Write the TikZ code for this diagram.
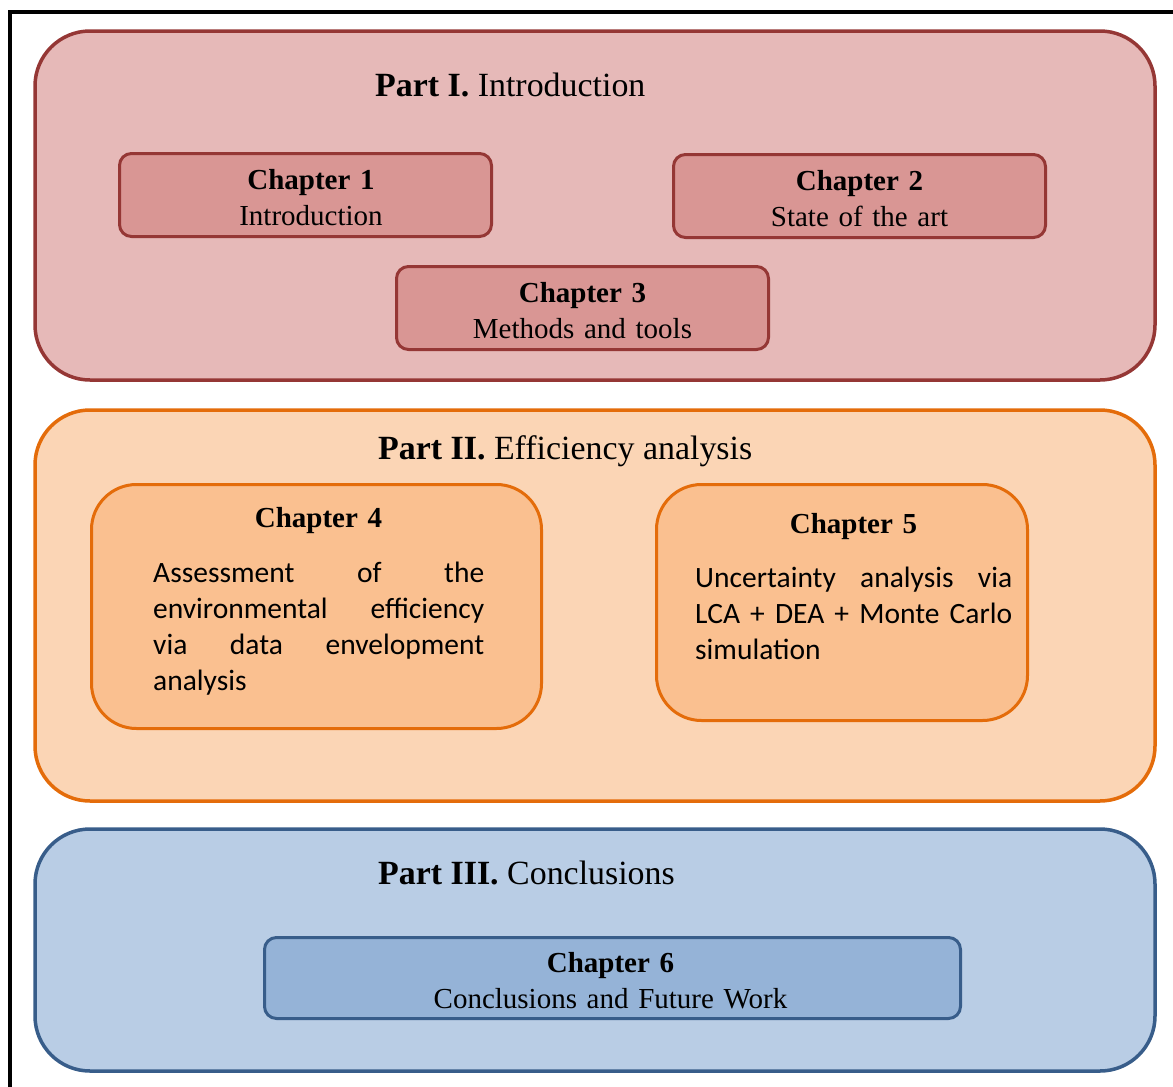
\documentclass[tikz,border=0pt]{standalone}
\usepackage{fontspec}
\newfontfamily\titlefont{Liberation Serif}
\newfontfamily\calfont{Carlito}
\definecolor{redline}{HTML}{953735}
\definecolor{redfill}{HTML}{E6B9B8}
\definecolor{redchap}{HTML}{D99694}
\definecolor{orline}{HTML}{E46C0A}
\definecolor{orfill}{HTML}{FBD5B5}
\definecolor{orchap}{HTML}{FAC090}
\definecolor{blline}{HTML}{385D8A}
\definecolor{blfill}{HTML}{B9CDE5}
\definecolor{blchap}{HTML}{95B3D7}
\tikzset{
  partbox/.style={draw, line width=3.5pt, rounded corners=55pt, inner sep=0pt},
  chapbox/.style={draw, line width=3pt, rounded corners=12pt, inner sep=0pt},
  bigchap/.style={draw, line width=3pt, rounded corners=45pt, inner sep=0pt},
  parttitle/.style={anchor=base west, inner sep=0pt, font=\titlefont\fontsize{33.9}{40}\selectfont},
  chaptext/.style={anchor=base, inner sep=0pt, align=center, font=\titlefont\fontsize{29}{36}\selectfont},
  bodytext/.style={anchor=base west, inner sep=0pt, align=justify, font=\calfont\fontsize{29.5}{36}\selectfont}
}
\begin{document}
\begin{tikzpicture}[x=1pt,y=-1pt]
\useasboundingbox (0,0) rectangle (1173,1087);
% frame edges
\coordinate (ftl) at (10,12);
\coordinate (fbl) at (10,1090);
\coordinate (ftr) at (1176,12);
\draw[line width=4pt] (fbl) -- (ftl) -- (ftr);

% Part I
\node[partbox, draw=redline, fill=redfill, minimum width=1120pt, minimum height=349pt] (p1) at (595,205.5) {};
\node[parttitle] (p1t) at (375,96) {\textbf{Part I.} Introduction};
\node[chapbox, draw=redline, fill=redchap, minimum width=372pt, minimum height=83pt] (c1) at (305.5,195) {};
\node[chaptext, text width=372pt] (c1t) at (311,189) {\textbf{Chapter 1}\\Introduction};
\node[chapbox, draw=redline, fill=redchap, minimum width=372pt, minimum height=83pt] (c2) at (859.5,196) {};
\node[chaptext, text width=372pt] (c2t) at (859.5,190) {\textbf{Chapter 2}\\State of the art};
\node[chapbox, draw=redline, fill=redchap, minimum width=372pt, minimum height=83pt] (c3) at (582.5,308) {};
\node[chaptext, text width=372pt] (c3t) at (582.5,302) {\textbf{Chapter 3}\\Methods and tools};

% Part II
\node[partbox, draw=orline, fill=orfill, minimum width=1120pt, minimum height=391pt] (p2) at (595,605.5) {};
\node[parttitle] (p2t) at (378,459) {\textbf{Part II.} Efficiency analysis};
\node[bigchap, draw=orline, fill=orchap, minimum width=450pt, minimum height=244pt] (c4) at (316.5,606.5) {};
\node[chaptext, text width=300pt] (c4h) at (318.5,527) {\textbf{Chapter 4}};
\node[bodytext, text width=331pt] (c4t) at (153,582)
  {Assessment of the\linebreak environmental efficiency\linebreak via data envelopment\linebreak analysis};
\node[bigchap, draw=orline, fill=orchap, minimum width=371pt, minimum height=236pt] (c5) at (842,602.5) {};
\node[chaptext, text width=300pt] (c5h) at (853.5,533) {\textbf{Chapter 5}};
\node[bodytext, text width=317pt] (c5t) at (695,587)
  {Uncertainty analysis via\linebreak LCA + DEA + Monte Carlo\linebreak simulation};

% Part III
\node[partbox, draw=blline, fill=blfill, minimum width=1120pt, minimum height=242pt] (p3) at (595,950) {};
\node[parttitle] (p3t) at (378,884) {\textbf{Part III.} Conclusions};
\node[chapbox, draw=blline, fill=blchap, minimum width=696pt, minimum height=81pt] (c6) at (612.5,978) {};
\node[chaptext, text width=690pt] (c6t) at (610.5,972) {\textbf{Chapter 6}\\Conclusions and Future Work};
\end{tikzpicture}
\end{document}
